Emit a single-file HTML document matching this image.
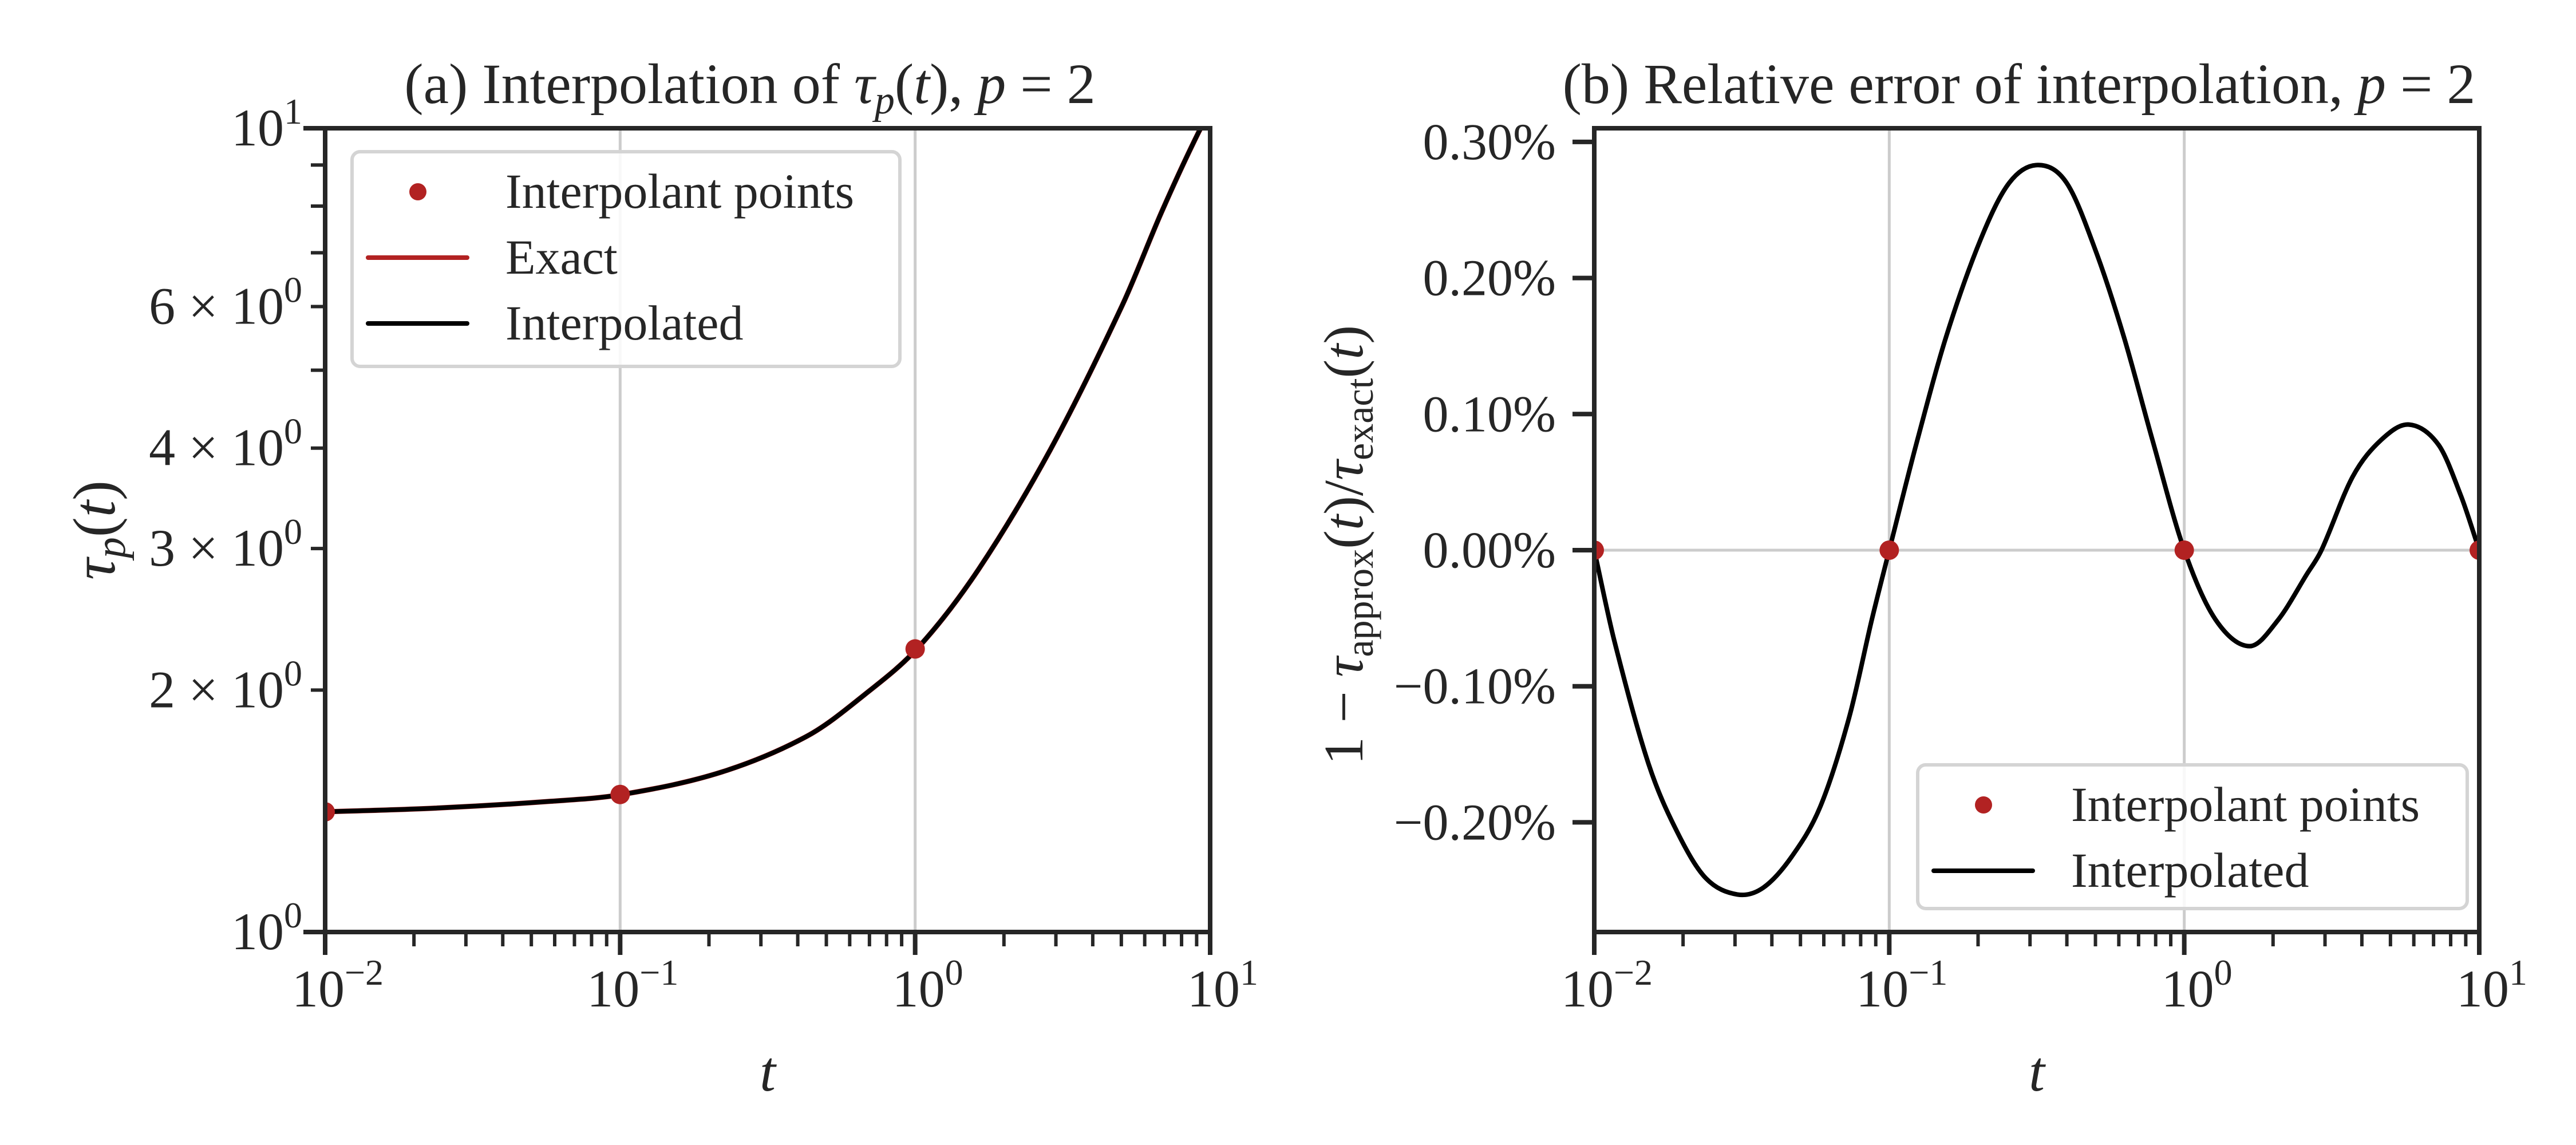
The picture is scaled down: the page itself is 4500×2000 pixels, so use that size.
<!DOCTYPE html>
<html><head><meta charset="utf-8"><style>
html,body{margin:0;padding:0;background:#fff;}
svg{display:block;font-family:"Liberation Serif",serif;}
</style></head><body>
<svg id="fig" width="4500" height="2000" viewBox="0 0 4500 2000" xmlns="http://www.w3.org/2000/svg">
<rect width="4500" height="2000" fill="#fff"/>
<g id="pa"></g>
<g id="pb"></g>
</svg>
<script>
// Panel (a) data: log10(t) and tau_p(t)
const tauU = [-2, -1.627, -1.239, -0.993, -0.657, -0.366, -0.172, 0.012, 0.216, 0.458, 0.701, 0.837, 0.963, 1.0];
const tauV = [1.411, 1.426, 1.454, 1.483, 1.581, 1.753, 1.973, 2.263, 2.83, 3.98, 6.01, 7.89, 9.92, 10.4];
const interpT = [0.01, 0.1, 1];
const interpTau = [1.411, 1.483, 2.25];
// Panel (b) data (log10 t, error in %)
const errU = [-2, -1.932, -1.816, -1.719, -1.622, -1.515, -1.427, -1.33, -1.233, -1.136, -1.059, -1, -0.909, -0.807, -0.69, -0.593, -0.496, -0.399, -0.302, -0.205, -0.108, 0, 0.106, 0.222, 0.319, 0.416, 0.465, 0.571, 0.668, 0.762, 0.862, 0.939, 1];
const errV = [0, -0.0665, -0.157, -0.207, -0.241, -0.253, -0.248, -0.225, -0.188, -0.123, -0.051, 0, 0.0774, 0.157, 0.2285, 0.270, 0.283, 0.270, 0.221, 0.157, 0.0811, 0, -0.051, -0.0705, -0.051, -0.0175, 0, 0.054, 0.0811, 0.0923, 0.0774, 0.0393, 0];
const errPtsT = [0.01, 0.1, 1, 10];
const errPtsV = [0, 0, 0, 0];
const yTicksB = [0.3, 0.2, 0.1, 0, -0.1, -0.2];
const yTickLabelsB = ["0.30%", "0.20%", "0.10%", "0.00%", "\u22120.10%", "\u22120.20%"];
const xMajorExp = [-2, -1, 0, 1];

const NS = "http://www.w3.org/2000/svg";
const RED = "#b22222", DARK = "#262626";
function mk(parent, tag, attrs, text) {
  const e = document.createElementNS(NS, tag);
  for (const k in attrs) e.setAttribute(k, attrs[k]);
  if (text !== undefined) e.textContent = text;
  parent.appendChild(e);
  return e;
}
const TOP = 224, BOT = 1628, W = 1546;
const axL = 568, axR = 2785;
const xA = t => axL + (Math.log10(t) + 2) / 3 * W;
const xAu = u => axL + (u + 2) / 3 * W;
const yA = v => BOT - Math.log10(v) * (BOT - TOP);
const xB = t => axR + (Math.log10(t) + 2) / 3 * W;
const xBu = u => axR + (u + 2) / 3 * W;
const yB = p => 961 - p * 2377;

function smooth(pts) {
  const n = pts.length, m = [];
  for (let i = 0; i < n; i++) {
    const a = pts[Math.max(0, i - 1)], b = pts[Math.min(n - 1, i + 1)];
    m.push((b[1] - a[1]) / (b[0] - a[0]));
  }
  let d = "M" + pts[0][0].toFixed(1) + "," + pts[0][1].toFixed(1);
  for (let i = 0; i < n - 1; i++) {
    const p1 = pts[i], p2 = pts[i + 1], dx = (p2[0] - p1[0]) / 3;
    d += "C" + (p1[0] + dx).toFixed(1) + "," + (p1[1] + m[i] * dx).toFixed(1) + " " + (p2[0] - dx).toFixed(1) + "," + (p2[1] - m[i + 1] * dx).toFixed(1) + " " + p2[0].toFixed(1) + "," + p2[1].toFixed(1);
  }
  return d;
}
function tenLabel(g, x, y, exp, anchor) {
  const t = mk(g, "text", {x: x, y: y, "font-size": 92, fill: DARK, "text-anchor": anchor});
  
  
  mk(t, "tspan", {}, "10");
  const s = exp < 0 ? "\u2212" + (-exp) : "" + exp;
  mk(t, "tspan", {dy: -38, "font-size": 64}, s);
  return t;
}
function xAxis(g, x0) {
  const xf = t => x0 + (Math.log10(t) + 2) / 3 * W;
  for (let e = -2; e < 1; e++) for (let m = 2; m <= 9; m++) {
    const x = xf(m * Math.pow(10, e));
    const l = mk(g, "line", {x1: x, x2: x, y1: BOT, y2: BOT + 25, stroke: DARK, "stroke-width": 6});
    
    
  }
  xMajorExp.forEach(e => {
    const x = xf(Math.pow(10, e));
    const l = mk(g, "line", {x1: x, x2: x, y1: BOT, y2: BOT + 40, stroke: DARK, "stroke-width": 8});
    
    
    tenLabel(g, x + 22, 1758, e, "middle");
  });
  const xl = mk(g, "text", {x: x0 + W / 2, y: 1905, "font-size": 100, "font-style": "italic", fill: DARK, "text-anchor": "middle"}, "t");
  
  
}
function vgrid(g, xf) {
  [0.1, 1].forEach(t => {
    const l = mk(g, "line", {x1: xf(t), x2: xf(t), y1: TOP, y2: BOT, stroke: "#cccccc", "stroke-width": 5});
    
    
  });
}
function frame(g, x0) {
  const r = mk(g, "rect", {x: x0, y: TOP, width: W, height: BOT - TOP, fill: "none", stroke: DARK, "stroke-width": 8});
  
  
}
function legend(g, x, y, w, h, rows) {
  const b = mk(g, "rect", {x: x, y: y, width: w, height: h, rx: 14, fill: "#fff", "fill-opacity": 0.85, stroke: "#d4d4d4", "stroke-width": 6});
  
  
  rows.forEach((r, i) => {
    const cy = y + 70 + i * 115;
    const eg = mk(g, "g", {});
    
    
    if (r.type === "dot") mk(eg, "circle", {cx: x + 115, cy: cy, r: 15, fill: RED});
    else mk(eg, "line", {x1: x + 28, x2: x + 201, y1: cy, y2: cy, stroke: r.color, "stroke-width": 8, "stroke-linecap": "round"});
    mk(eg, "text", {x: x + 268, y: cy + 28, "font-size": 86, fill: DARK}, r.label);
  });
}

// ---------- Panel A ----------
const pa = document.getElementById("pa");
vgrid(pa, xA);
const exactPts = tauU.map((u, i) => [xAu(u), yA(tauV[i])]);
const clipA = mk(pa, "clipPath", {id: "clipA"});
mk(clipA, "rect", {x: axL, y: TOP, width: W, height: BOT - TOP});
const ex = mk(pa, "path", {d: smooth(exactPts), fill: "none", stroke: RED, "stroke-width": 9, "clip-path": "url(#clipA)"});


const ip = mk(pa, "path", {d: smooth(exactPts), fill: "none", stroke: "#000", "stroke-width": 8, "clip-path": "url(#clipA)"});


interpTau.forEach((v, i) => {
  const c = mk(pa, "circle", {cx: xA(interpT[i]), cy: yA(v), r: 17, fill: RED, "clip-path": "url(#clipA)"});
  
  
});
frame(pa, axL);
for (let m = 2; m <= 9; m++) {
  const y = yA(m);
  const l = mk(pa, "line", {x1: axL - 25, x2: axL, y1: y, y2: y, stroke: DARK, "stroke-width": 6});
  
  
  if ([2, 3, 4, 6].includes(m)) {
    const t = mk(pa, "text", {x: 528, y: y + 30, "font-size": 92, fill: DARK, "text-anchor": "end"});
    
    
    mk(t, "tspan", {}, m + " \u00d7 10");
    mk(t, "tspan", {dy: -38, "font-size": 64}, "0");
  }
}
[1, 10].forEach(v => {
  const y = yA(v);
  const l = mk(pa, "line", {x1: axL - 38, x2: axL, y1: y, y2: y, stroke: DARK, "stroke-width": 8});
  
  
  const t = mk(pa, "text", {x: 528, y: y + 30, "font-size": 92, fill: DARK, "text-anchor": "end"});
  
  
  mk(t, "tspan", {}, "10");
  mk(t, "tspan", {dy: -38, "font-size": 64}, v === 1 ? "0" : "1");
});
xAxis(pa, axL);
legend(pa, 615, 265, 957, 375, [
  {type: "dot", label: "Interpolant points"},
  {type: "line", color: RED, label: "Exact"},
  {type: "line", color: "#000", label: "Interpolated"}]);
const ta = mk(pa, "text", {x: 1310, y: 180, "font-size": 100, fill: DARK, "text-anchor": "middle"});


mk(ta, "tspan", {}, "(a) Interpolation of ");
mk(ta, "tspan", {"font-style": "italic"}, "\u03c4");
mk(ta, "tspan", {"font-style": "italic", "font-size": 70, dy: 18}, "p");
mk(ta, "tspan", {dy: -18}, "(");
mk(ta, "tspan", {"font-style": "italic"}, "t");
mk(ta, "tspan", {}, "), ");
mk(ta, "tspan", {"font-style": "italic"}, "p");
mk(ta, "tspan", {}, " = 2");
const yla = mk(pa, "text", {x: 0, y: 0, "font-size": 105, fill: DARK, "text-anchor": "middle", transform: "translate(200,926) rotate(-90)"});


mk(yla, "tspan", {"font-style": "italic"}, "\u03c4");
mk(yla, "tspan", {"font-style": "italic", "font-size": 74, dy: 18}, "p");
mk(yla, "tspan", {dy: -18}, "(");
mk(yla, "tspan", {"font-style": "italic"}, "t");
mk(yla, "tspan", {}, ")");

// ---------- Panel B ----------
const pb = document.getElementById("pb");
vgrid(pb, xB);
const hz = mk(pb, "line", {x1: axR, x2: axR + W, y1: yB(0), y2: yB(0), stroke: "#cccccc", "stroke-width": 5});


const errPts = errU.map((u, i) => [xBu(u), yB(errV[i])]);
const el = mk(pb, "path", {d: smooth(errPts), fill: "none", stroke: "#000", "stroke-width": 8});


const clipB = mk(pb, "clipPath", {id: "clipB"});
mk(clipB, "rect", {x: axR, y: TOP, width: W, height: BOT - TOP});
errPtsT.forEach((t, i) => {
  const c = mk(pb, "circle", {cx: xB(t), cy: yB(errPtsV[i]), r: 17, fill: RED, "clip-path": "url(#clipB)"});
  
  
});
frame(pb, axR);
yTicksB.forEach((v, i) => {
  const y = yB(v);
  const l = mk(pb, "line", {x1: axR - 38, x2: axR, y1: y, y2: y, stroke: DARK, "stroke-width": 8});
  
  
  const t = mk(pb, "text", {x: 2718, y: y + 30, "font-size": 90, fill: DARK, "text-anchor": "end"}, yTickLabelsB[i]);
  
  
});
xAxis(pb, axR);
legend(pb, 3350, 1336, 960, 251, [
  {type: "dot", label: "Interpolant points"},
  {type: "line", color: "#000", label: "Interpolated"}]);
const tb = mk(pb, "text", {x: 3527, y: 180, "font-size": 100, fill: DARK, "text-anchor": "middle"});


mk(tb, "tspan", {}, "(b) Relative error of interpolation, ");
mk(tb, "tspan", {"font-style": "italic"}, "p");
mk(tb, "tspan", {}, " = 2");
const ylb = mk(pb, "text", {x: 0, y: 0, "font-size": 98, fill: DARK, "text-anchor": "middle", transform: "translate(2380,952) rotate(-90)"});


mk(ylb, "tspan", {}, "1 \u2212 ");
mk(ylb, "tspan", {"font-style": "italic"}, "\u03c4");
mk(ylb, "tspan", {"font-size": 68, dy: 18}, "approx");
mk(ylb, "tspan", {dy: -18}, "(");
mk(ylb, "tspan", {"font-style": "italic"}, "t");
mk(ylb, "tspan", {}, ")/");
mk(ylb, "tspan", {"font-style": "italic"}, "\u03c4");
mk(ylb, "tspan", {"font-size": 68, dy: 18}, "exact");
mk(ylb, "tspan", {dy: -18}, "(");
mk(ylb, "tspan", {"font-style": "italic"}, "t");
mk(ylb, "tspan", {}, ")");
</script>
</body></html>
